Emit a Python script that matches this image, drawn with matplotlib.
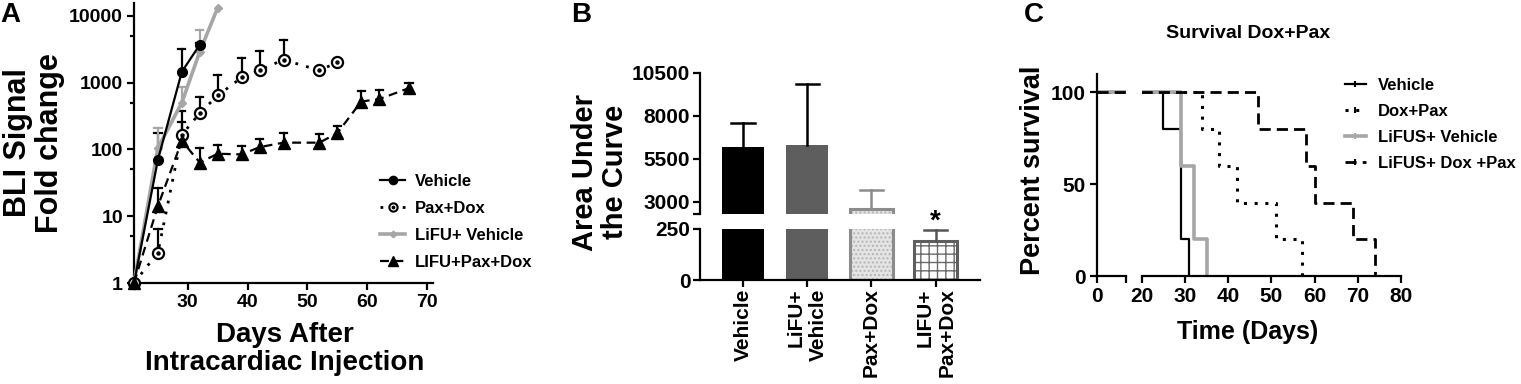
import matplotlib
matplotlib.use('Agg')
import matplotlib.pyplot as plt
from matplotlib.ticker import FixedLocator, NullFormatter
from matplotlib.lines import Line2D

plt.rcParams['font.family'] = ['Liberation Sans', 'DejaVu Sans']
plt.rcParams['font.weight'] = 'bold'
plt.rcParams['axes.labelweight'] = 'bold'
plt.rcParams['axes.linewidth'] = 1.6
plt.rcParams['xtick.major.width'] = 1.6
plt.rcParams['ytick.major.width'] = 1.6
plt.rcParams['ytick.minor.width'] = 1.6
plt.rcParams['xtick.major.size'] = 5
plt.rcParams['ytick.major.size'] = 5
plt.rcParams['ytick.minor.size'] = 3
plt.rcParams['hatch.linewidth'] = 1.0

W, H = 1521, 384

# ---- panel A: BLI fold change over time
veh_days = [21, 25, 29, 32]
veh_bli = [1, 70, 1450, 3680]
veh_top = [1, 177, 3200, 3900]

paxdox_days = [21, 25, 29, 32, 35, 39, 42, 46, 52, 55]
paxdox_bli = [1, 2.85, 165, 349, 640, 1190, 1536, 2190, 1520, 2000]
paxdox_top = [1, 6.4, 378, 605, 1276, 2323, 2918, 4270, 1520, 2000]

lifuveh_days = [21, 25, 29, 32, 35]
lifuveh_bli = [1, 105, 500, 2900, 13200]
lifuveh_top = [1, 210, 870, 6170, 13200]

lifupd_days = [21, 25, 29, 32, 35, 39, 42, 46, 52, 55, 59, 62, 67]
lifupd_bli = [1, 14.2, 134, 63.5, 86, 84, 108, 126, 126, 175, 520, 565, 826]
lifupd_top = [1, 26, 261, 106, 117, 113, 144, 175, 172, 225, 760, 778, 1000]

# ---- panel B: area under the curve
auc_groups = ['Vehicle', 'LiFU+\nVehicle', 'Pax+Dox', 'LIFU+\nPax+Dox']
auc_mean = [6220, 6320, 2595, 192]
auc_top = [7570, 9850, 3675, 243]

# ---- panel C: survival
km_veh_t = [0, 25, 29, 31]
km_veh_s = [100, 80, 20, 0]
km_doxpax_t = [0, 34, 38, 42, 51, 57]
km_doxpax_s = [100, 80, 60, 40, 20, 0]
km_lifusveh_t = [0, 29, 32, 35]
km_lifusveh_s = [100, 60, 20, 0]
km_lifusdp_t = [0, 47, 58, 60, 69, 74]
km_lifusdp_s = [100, 80, 60, 40, 20, 0]


def up_err(ax, x, y, top, color, capw, lw=1.6):
    # one sided (upper) error bars like prism draws them
    for xi, yi, ti in zip(x, y, top):
        if ti <= yi:
            continue
        ax.plot([xi, xi], [yi, ti], color=color, lw=lw, zorder=2)
        ax.plot([xi - capw, xi + capw], [ti, ti], color=color, lw=lw, zorder=2)


def px_axes(l, t, r, b):
    return fig.add_axes([l / W, 1 - b / H, (r - l) / W, (b - t) / H])


fig = plt.figure(figsize=(W / 100, H / 100), dpi=100)

# ================= A
axA = px_axes(134, 3, 433, 283)
axA.set_yscale('log')
axA.set_xlim(21, 71)
axA.set_ylim(1, 15500)
for s in ['top', 'right']:
    axA.spines[s].set_visible(False)

up_err(axA, veh_days, veh_bli, veh_top, 'black', 0.6)
up_err(axA, paxdox_days, paxdox_bli, paxdox_top, 'black', 0.6)
up_err(axA, lifuveh_days, lifuveh_bli, lifuveh_top, '#a6a6a6', 0.6)
up_err(axA, lifupd_days, lifupd_bli, lifupd_top, 'black', 0.6)

l1, = axA.plot(veh_days, veh_bli, '-o', color='black', lw=1.6, ms=7, clip_on=False, zorder=4)
l2, = axA.plot(paxdox_days, paxdox_bli, color='black', lw=2, ls=(0, (1, 3)), marker='o',
               ms=8, mfc='white', mew=1.6, clip_on=False, zorder=4)
axA.plot(paxdox_days, paxdox_bli, ls='none', marker='o', ms=2.2, color='black', clip_on=False, zorder=5)
l3, = axA.plot(lifuveh_days, lifuveh_bli, '-D', color='#a6a6a6', lw=2.6, ms=4, clip_on=False, zorder=3)
l4, = axA.plot(lifupd_days, lifupd_bli, color='black', lw=1.6, ls=(0, (4, 2.5)), marker='^',
               ms=8, clip_on=False, zorder=4)

axA.yaxis.set_major_locator(FixedLocator([1, 10, 100, 1000, 10000]))
axA.set_yticklabels(['1', '10', '100', '1000', '10000'])
axA.yaxis.set_minor_locator(FixedLocator([5, 50, 500, 5000]))
axA.yaxis.set_minor_formatter(NullFormatter())
axA.set_xticks([30, 40, 50, 60, 70])
axA.tick_params(labelsize=14, pad=3)

dot = Line2D([], [], ls='none', marker='o', ms=2, color='black')
h2 = Line2D([], [], color='black', lw=2, ls=(0, (1, 3)), marker='o', ms=7, mfc='white', mew=1.5)
axA.legend([l1, (h2, dot), l3, l4], ['Vehicle', 'Pax+Dox', 'LiFU+ Vehicle', 'LIFU+Pax+Dox'],
           loc='upper left', bbox_to_anchor=(380 / W, 1 - 174 / H), bbox_transform=fig.transFigure,
           frameon=False, fontsize=12, handlelength=1.5, handletextpad=0.6, labelspacing=0.72,
           borderpad=0, borderaxespad=0, markerscale=0.85)

fig.text(34 / W, 1 - 143 / H, 'BLI Signal\nFold change', rotation=90, ha='center', va='center',
         fontsize=22, linespacing=1.1)
fig.text(285 / W, 1 - 349 / H, 'Days After\nIntracardiac Injection', ha='center', va='center',
         fontsize=20, linespacing=1.15)
fig.text(0 / W, 1 - 2 / H, 'A', fontsize=20, va='top', ha='left')

# ================= B (broken axis)
axBu = px_axes(700, 73, 980, 214)
axBl = px_axes(700, 229, 980, 280)
xpos = list(range(len(auc_groups)))
styles = [
    dict(color='black', edgecolor='black', lw=0),
    dict(color='#5e5e5e', edgecolor='#5e5e5e', lw=0),
    dict(facecolor='#e4e4e4', edgecolor='#b5b5b5', hatch='....', lw=0),
    dict(facecolor='white', edgecolor='#6a6a6a', hatch='++', lw=0),
]
outline = [None, None, '#8c8c8c', '#5e5e5e']
err_col = ['black', 'black', '#8c8c8c', '#555555']
for ax in (axBu, axBl):
    for i in xpos:
        ax.bar(xpos[i], auc_mean[i], width=0.66, **styles[i])
        if outline[i]:
            ax.bar(xpos[i], auc_mean[i], width=0.66, fill=False, edgecolor=outline[i], lw=2.2)
        up_err(ax, [xpos[i]], [auc_mean[i]], [auc_top[i]], err_col[i], 0.18, lw=1.8)
    ax.set_xlim(-0.67, 3.69)
    ax.spines['top'].set_visible(False)
    ax.spines['right'].set_visible(False)

axBu.set_ylim(2300, 10500)
axBu.spines['bottom'].set_visible(False)
axBu.set_yticks([3000, 5500, 8000, 10500])
axBu.set_yticks([2300], minor=True)
axBu.tick_params(axis='y', which='minor', length=5)
axBu.set_xticks([])
axBu.tick_params(labelsize=15, pad=2)

axBl.set_ylim(0, 250)
axBl.set_yticks([0, 250])
axBl.set_xticks(xpos)
axBl.set_xticklabels(auc_groups, rotation=90, multialignment='right')
axBl.tick_params(labelsize=15, pad=2)
axBl.tick_params(axis='x', labelsize=15, pad=1)
axBl.annotate('*', (xpos[3], auc_top[3]), xytext=(0, -3), textcoords='offset points', ha='center',
              va='bottom', fontsize=20, annotation_clip=False)

fig.text(600 / W, 1 - 172 / H, 'Area Under\nthe Curve', rotation=90, ha='center', va='center',
         fontsize=21, linespacing=1.1)
fig.text(571 / W, 1 - 2 / H, 'B', fontsize=20, va='top', ha='left')

# ================= C (survival, broken x axis)
axCl = px_axes(1097, 74, 1125.7, 276)
axCr = px_axes(1141.7, 74, 1401, 276)
curves = [
    (km_veh_t, km_veh_s, dict(color='black', lw=1.6, ls='-'), 'Vehicle'),
    (km_doxpax_t, km_doxpax_s, dict(color='black', lw=2.2, ls=(0, (1, 2.5))), 'Dox+Pax'),
    (km_lifusveh_t, km_lifusveh_s, dict(color='#a6a6a6', lw=2.6, ls='-'), 'LiFUS+ Vehicle'),
    (km_lifusdp_t, km_lifusdp_s, dict(color='black', lw=2.0, ls=(0, (4, 2.2))), 'LiFUS+ Dox +Pax'),
]
handles = []
for ax in (axCl, axCr):
    for t, s, st, lab in curves:
        ax.step(t, s, where='post', **st)
    ax.set_ylim(0, 110)
    ax.spines['top'].set_visible(False)
    ax.spines['right'].set_visible(False)
for t, s, st, lab in curves:
    handles.append(Line2D([], [], marker='|', ms=5, mew=1.5, **st))

axCl.set_xlim(0, 6.6)
axCl.set_xticks([0, 6.6])
axCl.set_xticklabels(['0', ''])
axCl.set_yticks([0, 50, 100])
axCl.tick_params(labelsize=15, pad=3)

axCr.set_xlim(20, 80)
axCr.spines['left'].set_visible(False)
axCr.set_yticks([])
axCr.set_xticks([20, 30, 40, 50, 60, 70, 80])
axCr.tick_params(labelsize=15, pad=3)

axCr.legend(handles, [c[3] for c in curves], loc='upper left',
            bbox_to_anchor=(1345 / W, 1 - 78 / H), bbox_transform=fig.transFigure,
            frameon=False, fontsize=12, handlelength=1.25, handletextpad=0.75, labelspacing=0.65,
            borderpad=0, borderaxespad=0)

fig.text(1033 / W, 1 - 170 / H, 'Percent survival', rotation=90, ha='center', va='center', fontsize=19.5)
fig.text(1248 / W, 1 - 332 / H, 'Time (Days)', ha='center', va='center', fontsize=18)
fig.text(1248 / W, 1 - 33 / H, 'Survival Dox+Pax', ha='center', va='center', fontsize=14)
fig.text(1024 / W, 1 - 2 / H, 'C', fontsize=20, va='top', ha='left')

fig.savefig('out.png', dpi=100)
